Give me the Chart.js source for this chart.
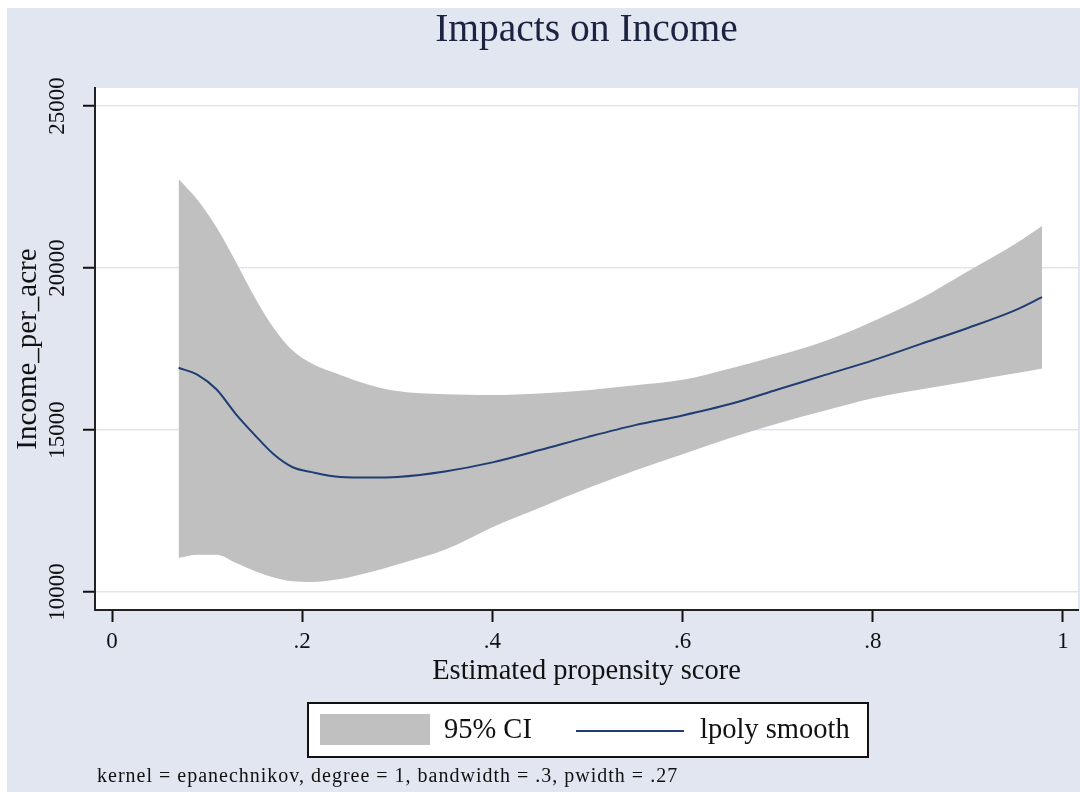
<!DOCTYPE html>
<html><head><meta charset="utf-8">
<script src="https://cdn.jsdelivr.net/npm/chart.js@4.4.1/dist/chart.umd.min.js"></script>
<style>html,body{margin:0;padding:0;background:#fff}canvas{display:block}</style>
</head><body>
<canvas id="c" width="1080" height="792" style="width:1080px;height:792px"></canvas>
<script>
// ---- data ----
const X_VALUES = [0.07, 0.09, 0.11, 0.13, 0.15, 0.17, 0.19, 0.21, 0.24, 0.27, 0.30, 0.35, 0.40, 0.45, 0.50, 0.55, 0.60, 0.65, 0.70, 0.75, 0.80, 0.85, 0.90, 0.95, 0.978];
const UPPER_CI = [22750, 22100, 21250, 20200, 19100, 18150, 17450, 17050, 16700, 16400, 16200, 16100, 16080, 16130, 16230, 16380, 16550, 16900, 17300, 17750, 18350, 19050, 19900, 20750, 21300];
const SMOOTH   = [16920, 16700, 16250, 15500, 14850, 14250, 13850, 13700, 13550, 13530, 13550, 13720, 14000, 14380, 14780, 15150, 15450, 15800, 16250, 16700, 17150, 17650, 18150, 18700, 19100];
const LOWER_CI = [11050, 11150, 11150, 10900, 10650, 10450, 10330, 10310, 10400, 10600, 10850, 11300, 12000, 12600, 13200, 13750, 14250, 14750, 15200, 15600, 15980, 16250, 16500, 16750, 16900];
const X_TICKS = [0, 0.2, 0.4, 0.6, 0.8, 1];
const X_TICK_LABELS = ['0', '.2', '.4', '.6', '.8', '1'];
const Y_TICKS = [10000, 15000, 20000, 25000];
const Y_TICK_LABELS = ['10000', '15000', '20000', '25000'];
const TITLE = 'Impacts on Income';
const X_TITLE = 'Estimated propensity score';
const Y_TITLE = 'Income_per_acre';
const LEGEND_LABELS = ['95% CI', 'lpoly smooth'];
const NOTE = 'kernel = epanechnikov, degree = 1, bandwidth = .3, pwidth = .27';

const SERIF = "'Liberation Serif', 'Times New Roman', serif";
const BG = '#e1e6f0';
const BAND = '#c0c0c0';
const NAVY = '#1f3d72';

const pts = ys => X_VALUES.map((x, i) => ({x: x, y: ys[i]}));

const bgPlugin = {
  id: 'bg',
  beforeDraw(chart) {
    const ctx = chart.ctx, a = chart.chartArea;
    ctx.save();
    ctx.fillStyle = '#ffffff';
    ctx.fillRect(0, 0, chart.width, chart.height);
    ctx.fillStyle = BG;
    ctx.fillRect(7, 8, chart.width - 7, chart.height - 8);
    ctx.fillStyle = '#ffffff';
    ctx.fillRect(a.left, a.top, a.right - a.left, a.bottom - a.top);
    ctx.restore();
  }
};

const legendPlugin = {
  id: 'stataLegend',
  afterDraw(chart) {
    const ctx = chart.ctx;
    ctx.save();
    ctx.fillStyle = '#ffffff';
    ctx.fillRect(308, 703, 560, 54);
    ctx.strokeStyle = '#111111';
    ctx.lineWidth = 2;
    ctx.strokeRect(308, 703, 560, 54);
    ctx.fillStyle = BAND;
    ctx.fillRect(320, 714, 110, 31);
    ctx.strokeStyle = NAVY;
    ctx.lineWidth = 2;
    ctx.beginPath();
    ctx.moveTo(576, 731);
    ctx.lineTo(684, 731);
    ctx.stroke();
    ctx.fillStyle = '#111111';
    ctx.font = '28.5px ' + SERIF;
    ctx.textBaseline = 'middle';
    ctx.textAlign = 'left';
    ctx.fillText(LEGEND_LABELS[0], 444, 731);
    ctx.fillText(LEGEND_LABELS[1], 700, 731);
    ctx.font = '20px ' + SERIF;
    if ('letterSpacing' in ctx) ctx.letterSpacing = '1px';
    ctx.fillText(NOTE, 97, 777);
    ctx.restore();
  }
};

new Chart(document.getElementById('c'), {
  type: 'line',
  data: {
    datasets: [
      {label: LEGEND_LABELS[1], data: pts(SMOOTH), borderColor: NAVY, borderWidth: 2,
       pointRadius: 0, fill: false, cubicInterpolationMode: 'monotone'},
      {label: LEGEND_LABELS[0], data: pts(UPPER_CI), borderColor: BAND, borderWidth: 0,
       backgroundColor: BAND, pointRadius: 0, fill: 2, cubicInterpolationMode: 'monotone'},
      {label: 'lower', data: pts(LOWER_CI), borderColor: BAND, borderWidth: 0,
       backgroundColor: BAND, pointRadius: 0, fill: false, cubicInterpolationMode: 'monotone'}
    ]
  },
  options: {
    responsive: false,
    animation: false,
    events: [],
    layout: {padding: {top: 0, right: 2, left: 0, bottom: 0}},
    plugins: {
      legend: {display: false},
      tooltip: {enabled: false},
      title: {
        display: true, text: TITLE, fullSize: false,
        color: '#1c2340', font: {family: SERIF, size: 39.5, weight: 'normal', lineHeight: 1.2},
        padding: {top: 7, bottom: 33.6}
      }
    },
    scales: {
      x: {
        type: 'linear', min: -0.0179, max: 1.0158,
        afterBuildTicks: s => { s.ticks = X_TICKS.map(v => ({value: v})); },
        afterFit: s => { s.height = 182; },
        ticks: {
          callback: (v, i) => X_TICK_LABELS[i],
          color: '#111', font: {family: SERIF, size: 23}, padding: 6,
          maxRotation: 0, minRotation: 0, autoSkip: false
        },
        grid: {color: 'rgba(0,0,0,0)', tickColor: '#111', tickLength: 12, tickWidth: 2},
        border: {display: true, color: '#222', width: 2},
        title: {display: true, text: X_TITLE, color: '#111',
                font: {family: SERIF, size: 28.5, lineHeight: 1.2}, padding: {top: 0, bottom: 103}}
      },
      y: {
        type: 'linear', min: 9444, max: 25556,
        afterBuildTicks: s => { s.ticks = Y_TICKS.map(v => ({value: v})); },
        afterFit: s => { s.width = 95; },
        ticks: {
          callback: (v, i) => Y_TICK_LABELS[i],
          color: '#111', font: {family: SERIF, size: 23}, padding: -4,
          minRotation: 90, maxRotation: 90, crossAlign: 'center', autoSkip: false
        },
        grid: {color: '#dfe5ef', lineWidth: 1.5, tickColor: '#111', tickLength: 12, tickWidth: 2},
        border: {display: true, color: '#222', width: 2},
        title: {display: true, text: Y_TITLE, color: '#111',
                font: {family: SERIF, size: 29, lineHeight: 1.2}, padding: {top: 11, bottom: 0}}
      }
    }
  },
  plugins: [bgPlugin, legendPlugin]
});
</script>
</body></html>
